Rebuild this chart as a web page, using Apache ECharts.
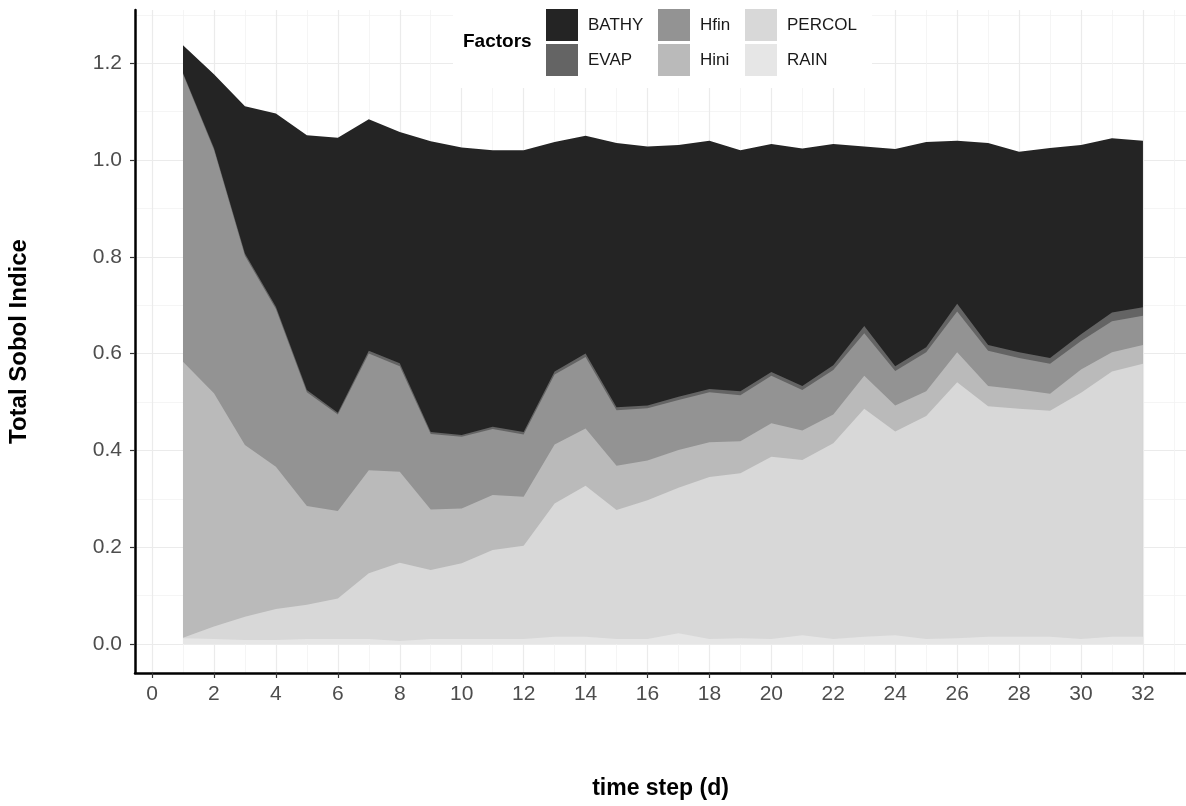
<!DOCTYPE html>
<html>
<head>
<meta charset="utf-8">
<script src="https://cdn.jsdelivr.net/npm/echarts@6/dist/echarts.min.js"></script>
<style>
html, body { margin: 0; padding: 0; background: #fff; }
#main { width: 1186px; height: 806px; }
</style>
</head>
<body>
<div id="main"></div>
<script>
// time steps (d)
var steps = [1, 2, 3, 4, 5, 6, 7, 8, 9, 10, 11, 12, 13, 14, 15, 16,
    17, 18, 19, 20, 21, 22, 23, 24, 25, 26, 27, 28, 29, 30, 31, 32];

// total Sobol indices per factor
var rain = [0.012, 0.010, 0.008, 0.008, 0.010, 0.010, 0.010, 0.006, 0.010, 0.010, 0.010, 0.010, 0.015, 0.015, 0.010, 0.010,
    0.022, 0.010, 0.012, 0.010, 0.018, 0.010, 0.015, 0.018, 0.010, 0.012, 0.015, 0.015, 0.015, 0.010, 0.015, 0.015];
var percol = [0.001, 0.026, 0.048, 0.064, 0.071, 0.084, 0.136, 0.162, 0.143, 0.157, 0.184, 0.193, 0.275, 0.312, 0.267, 0.287,
    0.301, 0.335, 0.341, 0.377, 0.362, 0.405, 0.471, 0.421, 0.461, 0.529, 0.476, 0.471, 0.467, 0.509, 0.548, 0.564];
var hini = [0.570, 0.482, 0.355, 0.294, 0.204, 0.181, 0.213, 0.188, 0.125, 0.113, 0.114, 0.101, 0.122, 0.118, 0.091, 0.082,
    0.078, 0.072, 0.066, 0.069, 0.061, 0.059, 0.068, 0.054, 0.051, 0.062, 0.042, 0.040, 0.035, 0.048, 0.040, 0.039];
var hfin = [0.594, 0.503, 0.391, 0.326, 0.235, 0.199, 0.241, 0.218, 0.156, 0.148, 0.136, 0.129, 0.145, 0.148, 0.115, 0.108,
    0.103, 0.103, 0.095, 0.098, 0.084, 0.092, 0.088, 0.071, 0.081, 0.084, 0.073, 0.065, 0.062, 0.059, 0.064, 0.060];
var evap = [0.003, 0.004, 0.005, 0.005, 0.005, 0.004, 0.006, 0.006, 0.004, 0.004, 0.005, 0.005, 0.006, 0.007, 0.006, 0.006,
    0.007, 0.007, 0.008, 0.008, 0.008, 0.010, 0.015, 0.010, 0.010, 0.016, 0.012, 0.012, 0.012, 0.014, 0.018, 0.018];
var bathy = [0.057, 0.152, 0.304, 0.399, 0.526, 0.568, 0.478, 0.478, 0.601, 0.594, 0.571, 0.582, 0.474, 0.450, 0.546, 0.535,
    0.520, 0.513, 0.498, 0.471, 0.491, 0.457, 0.371, 0.449, 0.424, 0.337, 0.417, 0.414, 0.434, 0.391, 0.360, 0.344];

// ticks
var xMajor = [0, 2, 4, 6, 8, 10, 12, 14, 16, 18, 20, 22, 24, 26, 28, 30, 32];
var xMinor = [1, 3, 5, 7, 9, 11, 13, 15, 17, 19, 21, 23, 25, 27, 29, 31, 33];
var yMajor = [0, 0.2, 0.4, 0.6, 0.8, 1.0, 1.2];
var yMinor = [0.1, 0.3, 0.5, 0.7, 0.9, 1.1, 1.3];

// stacking order, bottom -> top
var factorNames = ['RAIN', 'PERCOL', 'Hini', 'Hfin', 'EVAP', 'BATHY'];
var factorValues = [rain, percol, hini, hfin, evap, bathy];
var factorColors = ['#e6e6e6', '#d8d8d8', '#bababa', '#939393', '#646464', '#242424'];

var dom = document.getElementById('main');
var myChart = echarts.init(dom);

var font = '"Liberation Sans", Arial, Helvetica, sans-serif';
var xMin = -0.55, xMax = 33.39, yMin = -0.06, yMax = 1.31;

// cumulative tops (both axes are value axes, so stack by hand)
var cum = [];
var running = steps.map(function () { return 0; });
for (var k = 0; k < factorNames.length; k++) {
    running = running.map(function (r, i) { return r + factorValues[k][i]; });
    cum.push(running.slice());
}

// draw top layer first, each area filled down to 0, lower layers painted over
var series = [];
for (var k = factorNames.length - 1; k >= 0; k--) {
    var tops = cum[k];
    series.push({
        name: factorNames[k],
        type: 'line',
        symbol: 'none',
        lineStyle: { width: 0 },
        areaStyle: { color: factorColors[k], opacity: 1 },
        itemStyle: { color: factorColors[k] },
        data: steps.map(function (s, i) { return [s, tops[i]]; })
    });
}

var legendBase = {
    orient: 'vertical',
    top: 9,
    padding: 0,
    itemGap: 3,
    itemWidth: 32,
    itemHeight: 32,
    icon: 'rect',
    z: 10,
    textStyle: { fontFamily: font, fontSize: 17, color: '#1a1a1a', padding: [0, 0, 0, 5] }
};

var option = {
    backgroundColor: '#fff',
    animation: false,
    textStyle: { fontFamily: font },
    title: {
        text: 'Factors',
        left: 463,
        top: 32,
        padding: 0,
        z: 10,
        textStyle: { fontFamily: font, fontSize: 19, fontWeight: 'bold', color: '#000' }
    },
    legend: [
        Object.assign({}, legendBase, { left: 546, data: ['BATHY', 'EVAP'] }),
        Object.assign({}, legendBase, { left: 658, data: ['Hfin', 'Hini'] }),
        Object.assign({}, legendBase, { left: 745, data: ['PERCOL', 'RAIN'] })
    ],
    graphic: [{
        type: 'rect',
        left: 453,
        top: 0,
        z: 3,
        shape: { width: 419, height: 88 },
        style: { fill: '#fff' }
    }],
    grid: { left: 135, right: 0, top: 10, bottom: 133, containLabel: false, outerBoundsMode: 'none' },
    xAxis: [{
        type: 'value',
        min: xMin,
        max: xMax,
        name: 'time step (d)',
        nameLocation: 'middle',
        nameGap: 104,
        nameTextStyle: { fontFamily: font, fontSize: 23, fontWeight: 'bold', color: '#000' },
        axisLine: { show: true, onZero: false, lineStyle: { color: '#000', width: 2.5 } },
        axisTick: { show: true, length: 5, customValues: xMajor, lineStyle: { color: '#333', width: 1.2 } },
        axisLabel: { customValues: xMajor, margin: 11, fontFamily: font, fontSize: 21, color: '#4d4d4d' },
        splitLine: { show: true, lineStyle: { color: '#ebebeb', width: 1.2 } }
    }, {
        type: 'value',
        min: xMin,
        max: xMax,
        position: 'bottom',
        axisLine: { show: false, onZero: false },
        axisTick: { show: false, customValues: xMinor },
        axisLabel: { show: false },
        splitLine: { show: true, lineStyle: { color: '#f2f2f2', width: 0.8 } }
    }],
    yAxis: [{
        type: 'value',
        min: yMin,
        max: yMax,
        name: 'Total Sobol Indice',
        nameLocation: 'middle',
        nameGap: 104,
        nameTextStyle: { fontFamily: font, fontSize: 24, fontWeight: 'bold', color: '#000' },
        axisLine: { show: true, onZero: false, lineStyle: { color: '#000', width: 2.5 } },
        axisTick: { show: true, length: 5, customValues: yMajor, lineStyle: { color: '#333', width: 1.2 } },
        axisLabel: {
            customValues: yMajor, margin: 13, fontFamily: font, fontSize: 21, color: '#4d4d4d',
            formatter: function (v) { return v.toFixed(1); }
        },
        splitLine: { show: true, lineStyle: { color: '#ebebeb', width: 1.2 } }
    }, {
        type: 'value',
        min: yMin,
        max: yMax,
        position: 'left',
        axisLine: { show: false, onZero: false },
        axisTick: { show: false, customValues: yMinor },
        axisLabel: { show: false },
        splitLine: { show: true, lineStyle: { color: '#f2f2f2', width: 0.8 } }
    }],
    series: series
};

if (option && typeof option === 'object') {
    myChart.setOption(option, true);
}
</script>
</body>
</html>
